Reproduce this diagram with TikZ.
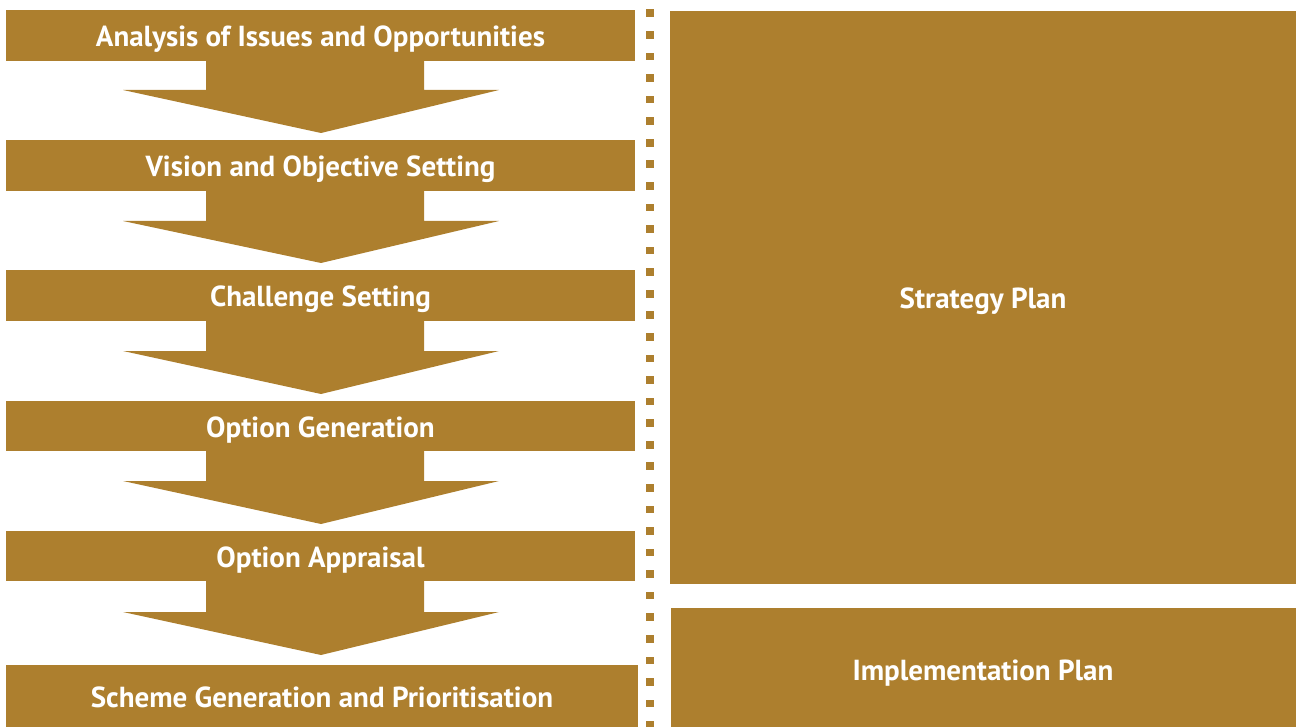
\documentclass[tikz,border=0pt]{standalone}
\usepackage{fontspec}
\setmainfont{PT Sans}
\definecolor{gold}{RGB}{173,127,46}
\tikzset{
  stepbox/.style={draw=none, text=white, font=\fontsize{29}{33}\selectfont\bfseries, inner sep=0pt, anchor=base},
  flowarrow/.style={fill=gold, draw=none},
  dotsq/.style={fill=gold, draw=none}
}
\begin{document}
\begin{tikzpicture}[x=1pt,y=-1pt]
\useasboundingbox (0,0) rectangle (1296,727);
% left boxes
\foreach \t/\b/\r/\lab/\nm in {10/61/635/{Analysis of Issues and Opportunities}/s1,
  140/191/635/{Vision and Objective Setting}/s2,
  270/321/635/{Challenge Setting}/s3,
  401/451/635/{Option Generation}/s4,
  531/581/635/{Option Appraisal}/s5,
  665/727/638/{Scheme Generation and Prioritisation}/s6}{
  \fill[gold] (6,\t) rectangle (\r,\b);
  \node[stepbox] (\nm) at ({(6+\r)/2},{(\t+\b)/2+11.5}) {\lab};
}
% arrows
\foreach \t/\m/\tip in {61/90/133, 191/221/263, 321/351/394, 451/481/524, 581/612/655}{
  \fill[flowarrow] (206,\t) -- (424,\t) -- (424,\m) -- (499,\m) -- (321,\tip) -- (123,\m) -- (206,\m) -- cycle;
}
% dotted separator
\foreach \k in {0,...,33}{
  \fill[dotsq] (646.3,{9.5+\k*21.57}) rectangle ++(7.6,7.6);
}
% right boxes
\fill[gold] (670,11) rectangle (1296,584);
\node[stepbox] (sp) at (983,309) {Strategy Plan};
\fill[gold] (671,608) rectangle (1296,727);
\node[stepbox] (ip) at (983,680) {Implementation Plan};
\end{tikzpicture}
\end{document}
